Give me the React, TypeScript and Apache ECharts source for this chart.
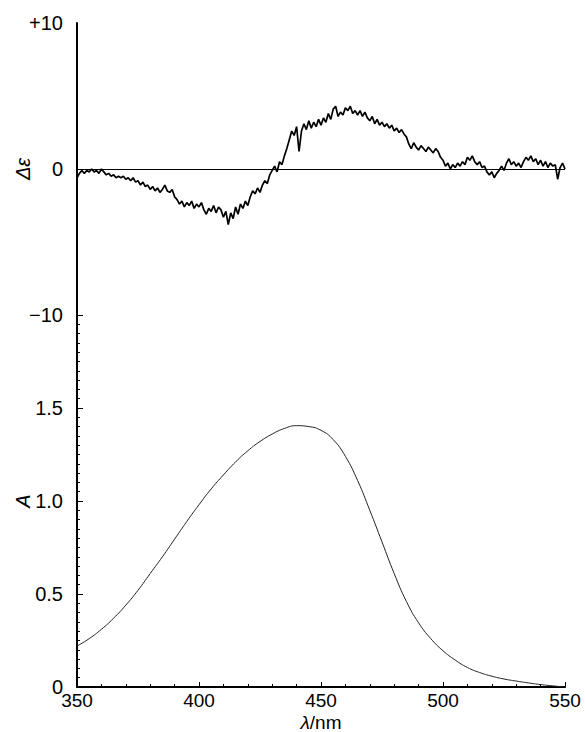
import React, { useEffect, useRef } from "react";
import * as echarts from "echarts";

// x axis (wavelength, nm)
const xMin = 350;
const xMax = 550;
const xInterval = 50;

// CD spectrum: Δε sampled every 1 nm from 350 nm
const cdStartNm = 350;
const cdStepNm = 1;
const deltaEpsilon = [
  -0.6, -0.3, -0.1, -0.3, -0.1, -0.2, 0.0, -0.2, -0.1, -0.3,
  0.0, -0.2, -0.4, -0.3, -0.5, -0.4, -0.6, -0.5, -0.6, -0.5,
  -0.7, -0.6, -0.8, -0.6, -0.9, -0.8, -1.1, -0.9, -1.2, -1.1,
  -1.4, -1.2, -1.5, -1.3, -1.6, -1.4, -1.1, -1.5, -1.6, -1.4,
  -1.9, -2.1, -2.4, -2.2, -2.6, -2.3, -2.5, -2.2, -2.7, -2.4,
  -2.6, -2.3, -2.8, -3.1, -2.7, -2.9, -2.5, -3.0, -2.6, -2.8,
  -3.3, -2.9, -3.8, -3.0, -3.4, -2.6, -3.1, -2.4, -2.7, -2.2,
  -2.5, -1.9, -1.5, -1.7, -1.3, -1.6, -1.1, -0.8, -1.0, -0.4,
  -0.1, 0.2, -0.2, 0.5, 0.3, 0.9, 1.4, 2.0, 2.6, 2.3,
  2.9, 1.2, 2.6, 3.1, 2.7, 3.3, 2.8, 3.2, 2.9, 3.4,
  3.0, 3.5, 3.2, 3.8, 3.4, 4.1, 4.3, 3.6, 3.9, 3.7,
  4.2, 4.0, 4.3, 3.8, 4.0, 3.7, 4.0, 3.6, 3.9, 3.5,
  3.3, 3.6, 3.1, 3.4, 3.0, 3.2, 2.9, 3.1, 2.8, 3.0,
  2.6, 2.8, 2.5, 2.7, 2.4, 2.2, 1.7, 1.4, 1.8, 1.5,
  1.3, 1.6, 1.4, 1.2, 1.5, 1.3, 1.1, 1.4, 1.2, 0.8,
  0.6, 0.2, 0.4, 0.0, 0.3, 0.1, 0.4, 0.2, 0.5, 0.3,
  0.8, 0.6, 0.9, 0.5, 0.3, 0.5, 0.1, 0.2, -0.2, -0.4,
  -0.2, -0.6, -0.3, -0.1, 0.2, -0.1, 0.4, 0.7, 0.3, 0.5,
  0.2, 0.4, 0.1, 0.5, 0.8, 0.6, 0.9, 0.5, 0.7, 0.3,
  0.6, 0.2, 0.5, 0.1, 0.4, 0.2, 0.3, -0.7, 0.1, 0.4,
  0.0,
];

// Absorption spectrum
const absWavelength = [
  350, 355, 360, 365, 370, 375, 380, 385, 390, 395,
  400, 405, 410, 415, 420, 425, 430, 435, 440, 445,
  450, 455, 460, 465, 470, 475, 480, 485, 490, 495,
  500, 505, 510, 515, 520, 525, 530, 535, 540, 545, 550,
];
const absorbance = [
  0.22, 0.26, 0.31, 0.37, 0.44, 0.52, 0.61, 0.7, 0.795, 0.89,
  0.98, 1.065, 1.14, 1.21, 1.27, 1.32, 1.36, 1.39, 1.405, 1.4,
  1.38, 1.33, 1.24, 1.11, 0.95, 0.78, 0.61, 0.46, 0.345, 0.26,
  0.195, 0.145, 0.105, 0.078, 0.058, 0.043, 0.032, 0.022, 0.013, 0.006, 0.0,
];

const FONT = "'Liberation Sans', Arial, Helvetica, sans-serif";

export default function App() {
  const ref = useRef<HTMLDivElement>(null);

  useEffect(() => {
    if (!ref.current) return;
    const chart = echarts.init(ref.current, undefined, { renderer: "svg" });

    const cdData = deltaEpsilon.map((v, i) => [cdStartNm + i * cdStepNm, v]);
    const absData = absWavelength.map((w, i) => [w, absorbance[i]]);

    const axisLineStyle = { color: "#000", width: 2 };

    chart.setOption({
      animation: false,
      backgroundColor: "#fff",
      textStyle: { fontFamily: FONT, color: "#000" },
      grid: [
        { left: 77, right: 20, top: 23, height: 292, containLabel: false, outerBoundsMode: "none" },
        { left: 77, right: 20, top: 315, height: 372, containLabel: false, outerBoundsMode: "none" },
      ],
      xAxis: [
        { gridIndex: 0, type: "value", min: xMin, max: xMax, show: false },
        {
          gridIndex: 1,
          type: "value",
          min: xMin,
          max: xMax,
          interval: xInterval,
          axisLine: { show: true, lineStyle: axisLineStyle },
          axisTick: { show: true, inside: true, length: 5, lineStyle: { color: "#000", width: 1 } },
          minorTick: { show: true, splitNumber: 5, length: 3, lineStyle: { color: "#000", width: 1 } },
          splitLine: { show: false },
          axisLabel: { color: "#000", fontSize: 19, margin: 4, lineHeight: 19, fontFamily: FONT },
          name: "{i|λ}/nm",
          nameLocation: "middle",
          nameGap: 26,
          nameMoveOverlap: false,
          nameTextStyle: {
            color: "#000",
            fontSize: 19,
            lineHeight: 19,
            fontFamily: FONT,
            rich: { i: { fontStyle: "italic", fontSize: 19, lineHeight: 19, fontFamily: FONT, color: "#000" } },
          },
        },
      ],
      yAxis: [
        {
          gridIndex: 0,
          type: "value",
          min: -10,
          max: 10,
          interval: 10,
          axisLine: { show: true, lineStyle: axisLineStyle },
          axisTick: { show: false },
          splitLine: { show: false },
          axisLabel: {
            color: "#000",
            fontSize: 20,
            margin: 14,
            fontFamily: FONT,
            formatter: (v: number) => (v > 0 ? "+" + v : v < 0 ? "\u2212" + Math.abs(v) : "0"),
          },
          name: "Δε",
          nameLocation: "middle",
          nameRotate: 90,
          nameGap: 44,
          nameMoveOverlap: false,
          nameTextStyle: { color: "#000", fontSize: 20, fontStyle: "italic", fontFamily: FONT },
        },
        {
          gridIndex: 1,
          type: "value",
          min: 0,
          max: 2,
          interval: 0.5,
          axisLine: { show: true, lineStyle: axisLineStyle },
          axisTick: { show: true, inside: true, length: 6, lineStyle: { color: "#000", width: 1 } },
          minorTick: { show: true, splitNumber: 10, length: 3, lineStyle: { color: "#000", width: 1 } },
          splitLine: { show: false },
          axisLabel: {
            color: "#000",
            fontSize: 20,
            margin: 14,
            fontFamily: FONT,
            formatter: (v: number) => (v >= 2 ? "" : v === 0 ? "0" : v.toFixed(1)),
          },
          name: "A",
          nameLocation: "middle",
          nameRotate: 90,
          nameGap: 44,
          nameMoveOverlap: false,
          nameTextStyle: { color: "#000", fontSize: 20, fontStyle: "italic", fontFamily: FONT },
        },
      ],
      series: [
        {
          type: "line",
          xAxisIndex: 0,
          yAxisIndex: 0,
          data: cdData,
          showSymbol: false,
          lineStyle: { color: "#000", width: 1.7 },
          markLine: {
            silent: true,
            symbol: ["none", "none"],
            label: { show: false },
            lineStyle: { color: "#000", width: 1, type: "solid" },
            data: [{ yAxis: 0 }],
          },
        },
        {
          type: "line",
          xAxisIndex: 1,
          yAxisIndex: 1,
          data: absData,
          smooth: true,
          showSymbol: false,
          lineStyle: { color: "#222", width: 1 },
        },
      ],
    });

    return () => chart.dispose();
  }, []);

  return (
    <div
      ref={ref}
      style={{ position: "absolute", left: 0, top: 0, width: 585, height: 732, background: "#fff" }}
    />
  );
}
